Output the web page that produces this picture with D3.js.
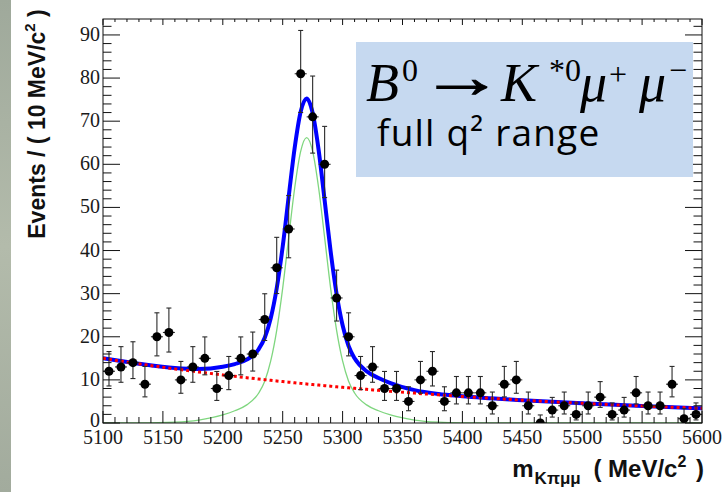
<!DOCTYPE html>
<html>
<head>
<meta charset="utf-8">
<script src="https://cdn.jsdelivr.net/npm/d3@7"></script>
<style>
  html, body { margin: 0; padding: 0; background: #fff; }
  svg { display: block; }
</style>
</head>
<body>
<div id="chart"></div>
<script>
// ---- Data ---------------------------------------------------------------
// Bin centres (MeV/c^2, 10 MeV bins) and event counts.
var binCenters = [
  5105, 5115, 5125, 5135, 5145, 5155, 5165, 5175, 5185, 5195,
  5205, 5215, 5225, 5235, 5245, 5255, 5265, 5275, 5285, 5295,
  5305, 5315, 5325, 5335, 5345, 5355, 5365, 5375, 5385, 5395,
  5405, 5415, 5425, 5435, 5445, 5455, 5465, 5475, 5485, 5495,
  5505, 5515, 5525, 5535, 5545, 5555, 5565, 5575, 5585, 5595
];
var events = [
  12, 13, 14, 9, 20, 21, 10, 13, 15, 8,
  11, 15, 16, 24, 36, 45, 81, 71, 60, 29,
  20, 11, 13, 8, 8, 5, 10, 12, 5, 7,
  7, 7, 4, 9, 10, 4, 0, 3, 4, 2,
  4, 6, 2, 3, 7, 4, 4, 9, 1, 2
];

// Fit components (events / 10 MeV).
var curveMass = [
  5100, 5130, 5160, 5180, 5200, 5210, 5220, 5230, 5235, 5240,
  5245, 5250, 5255, 5260, 5265, 5270, 5275, 5280, 5285, 5290,
  5295, 5300, 5305, 5310, 5320, 5330, 5340, 5360, 5380, 5400,
  5450, 5500, 5550, 5600
];
var signalCurve = [
  0, 0.02, 0.2, 0.69, 1.89, 2.84, 4.2, 6.95, 9.7, 14.4,
  21.5, 31.3, 43.0, 54.5, 63.0, 66.2, 63.0, 54.5, 43.0, 31.3,
  21.5, 14.4, 9.7, 6.95, 4.2, 2.84, 1.89, 0.69, 0.2, 0.05,
  0, 0, 0, 0
];
var backgroundCurve = [
  15.0, 13.72, 12.55, 11.83, 11.15, 10.82, 10.5, 10.2, 10.05, 9.9,
  9.75, 9.61, 9.47, 9.33, 9.19, 9.05, 8.92, 8.79, 8.66, 8.53,
  8.4, 8.28, 8.16, 8.04, 7.8, 7.58, 7.35, 6.93, 6.53, 6.15,
  5.3, 4.57, 3.94, 3.4
];

var xTicks = [5100, 5150, 5200, 5250, 5300, 5350, 5400, 5450, 5500, 5550, 5600];
var yTicks = [0, 10, 20, 30, 40, 50, 60, 70, 80, 90];

// ---- Layout -------------------------------------------------------------
var W = 728, H = 492;
var frame = { left: 103, right: 702, top: 19, bottom: 423 };
var binWidth = 10;
var SERIF = 'Liberation Serif, Times New Roman, serif';
var SANS = 'Liberation Sans, Arial, sans-serif';

var svg = d3.select('#chart').append('svg')
  .attr('width', W).attr('height', H)
  .style('font-family', SERIF);

var x = d3.scaleLinear().domain([5100, 5600]).range([frame.left, frame.right]);
var y = d3.scaleLinear().domain([0, 93.7]).range([frame.bottom, frame.top]);

var defs = svg.append('defs');

// slide background strip on the far left
var grad = defs.append('linearGradient')
  .attr('id', 'edge').attr('x1', 0).attr('y1', 0).attr('x2', 0).attr('y2', 1);
grad.append('stop').attr('offset', '0%').attr('stop-color', '#9fa99b');
grad.append('stop').attr('offset', '50%').attr('stop-color', '#b3bbab');
grad.append('stop').attr('offset', '100%').attr('stop-color', '#a2ab9d');
svg.append('rect').attr('x', 0).attr('y', 0).attr('width', 11).attr('height', H)
  .attr('fill', 'url(#edge)');

defs.append('clipPath').attr('id', 'plotclip')
  .append('rect')
  .attr('x', frame.left).attr('y', frame.top)
  .attr('width', frame.right - frame.left).attr('height', frame.bottom - frame.top);

// ---- Curves -------------------------------------------------------------
var totalCurve = signalCurve.map(function(s, i) { return s + backgroundCurve[i]; });

function curvePath(vals) {
  return d3.line()
    .x(function(d, i) { return x(curveMass[i]); })
    .y(function(d) { return y(d); })
    .curve(d3.curveMonotoneX)(vals);
}

var plot = svg.append('g').attr('clip-path', 'url(#plotclip)');

plot.append('path').attr('d', curvePath(signalCurve))
  .attr('fill', 'none').attr('stroke', '#7fd67f').attr('stroke-width', 1.3);
plot.append('path').attr('d', curvePath(totalCurve))
  .attr('fill', 'none').attr('stroke', '#0000ff').attr('stroke-width', 4)
  .attr('stroke-linejoin', 'round');
plot.append('path').attr('d', curvePath(backgroundCurve))
  .attr('fill', 'none').attr('stroke', '#ff0000').attr('stroke-width', 3)
  .attr('stroke-dasharray', '3,3');

// ---- Data points with Poisson (Gehrels) 68% intervals -------------------
function errLo(n) {
  if (n <= 0) return 0;
  var t = 1 - 1 / (9 * n) - 1 / (3 * Math.sqrt(n));
  return n - n * t * t * t;
}
function errHi(n) { return Math.sqrt(n + 0.75) + 1; }

var pts = plot.append('g').attr('stroke', '#2a2a2a').attr('stroke-width', 1.1);
binCenters.forEach(function(m, i) {
  var n = events[i];
  var cx = x(m), cy = y(n);
  var yHi = y(n + errHi(n)), yLo = y(n - errLo(n));
  var g = pts.append('g');
  g.append('line').attr('x1', cx).attr('x2', cx).attr('y1', yHi).attr('y2', yLo);
  g.append('line').attr('x1', cx - 2.5).attr('x2', cx + 2.5).attr('y1', yHi).attr('y2', yHi);
  if (n > 0) {
    g.append('line').attr('x1', cx - 2.5).attr('x2', cx + 2.5).attr('y1', yLo).attr('y2', yLo);
  }
  g.append('line')
    .attr('x1', x(m - binWidth / 2)).attr('x2', x(m + binWidth / 2))
    .attr('y1', cy).attr('y2', cy);
  g.append('circle').attr('cx', cx).attr('cy', cy).attr('r', 4.5)
    .attr('fill', '#000').attr('stroke', 'none');
});

// ---- Frame and ticks ----------------------------------------------------
var axes = svg.append('g').attr('stroke', '#111').attr('stroke-width', 1);
axes.append('rect')
  .attr('x', frame.left).attr('y', frame.top)
  .attr('width', frame.right - frame.left).attr('height', frame.bottom - frame.top)
  .attr('fill', 'none');

var xMinor = d3.range(5100, 5601, 10);
xMinor.forEach(function(v) {
  var major = xTicks.indexOf(v) >= 0;
  var len = major ? 12 : 6;
  axes.append('line').attr('x1', x(v)).attr('x2', x(v))
    .attr('y1', frame.bottom).attr('y2', frame.bottom - len);
  axes.append('line').attr('x1', x(v)).attr('x2', x(v))
    .attr('y1', frame.top).attr('y2', frame.top + (major ? 6 : 3));
});

var yMinor = d3.range(0, 93, 2);
yMinor.forEach(function(v) {
  var major = yTicks.indexOf(v) >= 0;
  var len = major ? 17 : 8.5;
  axes.append('line').attr('x1', frame.left).attr('x2', frame.left + len)
    .attr('y1', y(v)).attr('y2', y(v));
  axes.append('line').attr('x1', frame.right).attr('x2', frame.right - len)
    .attr('y1', y(v)).attr('y2', y(v));
});

// tick labels
svg.append('g').selectAll('text').data(yTicks).join('text')
  .attr('x', frame.left - 3).attr('y', function(d) { return y(d) + (d === 0 ? 4 : 6); })
  .attr('text-anchor', 'end')
  .attr('font-size', 20).attr('fill', '#1a1a1a')
  .text(function(d) { return d; });

svg.append('g').selectAll('text').data(xTicks).join('text')
  .attr('x', function(d) { return x(d); }).attr('y', 444)
  .attr('text-anchor', 'middle')
  .attr('font-size', 20).attr('fill', '#1a1a1a')
  .text(function(d) { return d; });

// ---- Axis titles --------------------------------------------------------
var yTitle = svg.append('text')
  .attr('transform', 'translate(45,124) rotate(-90)')
  .attr('text-anchor', 'middle')
  .attr('font-family', SANS)
  .attr('font-weight', 'bold').attr('font-size', 23).attr('fill', '#111');
yTitle.append('tspan').text('Events / ( 10 MeV/c');
yTitle.append('tspan').attr('font-size', 15).attr('dy', -10).text('2');
yTitle.append('tspan').attr('dy', 10).text(' )');

var xTitle = svg.append('text')
  .attr('x', 704).attr('y', 477)
  .attr('text-anchor', 'end')
  .attr('font-family', SANS)
  .attr('font-weight', 'bold').attr('font-size', 24).attr('fill', '#111');
xTitle.append('tspan').text('m');
xTitle.append('tspan').attr('font-size', 17).attr('dy', 7).attr('dx', 1).text('K\u03c0\u03bc\u03bc');
xTitle.append('tspan').attr('dy', -7).attr('dx', 6).text(' ( MeV/c');
xTitle.append('tspan').attr('font-size', 16).attr('dy', -10).text('2');
xTitle.append('tspan').attr('dy', 10).attr('dx', 3).text(' )');

// ---- Decay label box ----------------------------------------------------
svg.append('rect')
  .attr('x', 356).attr('y', 42).attr('width', 337).attr('height', 135)
  .attr('fill', '#c6d9f0');

// each glyph group placed where it sits in the slide's equation object
var decayParts = [
  { t: 'B', x: 366, y: 101, size: 54, it: true },
  { t: '0', x: 402, y: 81, size: 32 },
  { t: 'K', x: 501, y: 101, size: 54, it: true },
  { t: '*0', x: 549, y: 81, size: 32 },
  { t: '\u03bc', x: 580, y: 101, size: 54, it: true },
  { t: '+', x: 609, y: 85, size: 32 },
  { t: '\u03bc', x: 639, y: 101, size: 54, it: true },
  { t: '\u2212', x: 669, y: 81, size: 32 }
];
svg.append('g').selectAll('text').data(decayParts).join('text')
  .attr('x', function(d) { return d.x; }).attr('y', function(d) { return d.y; })
  .attr('font-family', SERIF)
  .attr('font-size', function(d) { return d.size; })
  .attr('font-style', function(d) { return d.it ? 'italic' : 'normal'; })
  .attr('fill', '#000')
  .text(function(d) { return d.t; });

// arrow, stretched to the width it has in the equation
svg.append('text')
  .attr('transform', 'translate(420,97) scale(1.55,1.1)')
  .attr('font-family', SERIF).attr('font-size', 54)
  .attr('fill', '#000').attr('stroke', '#000').attr('stroke-width', 1)
  .text('\u2192');

svg.append('text')
  .attr('x', 377).attr('y', 146)
  .attr('font-family', 'Open Sans, Lato, sans-serif')
  .attr('font-size', 37).attr('letter-spacing', 1.2).attr('fill', '#000')
  .text('full q\u00b2 range');
</script>
</body>
</html>
